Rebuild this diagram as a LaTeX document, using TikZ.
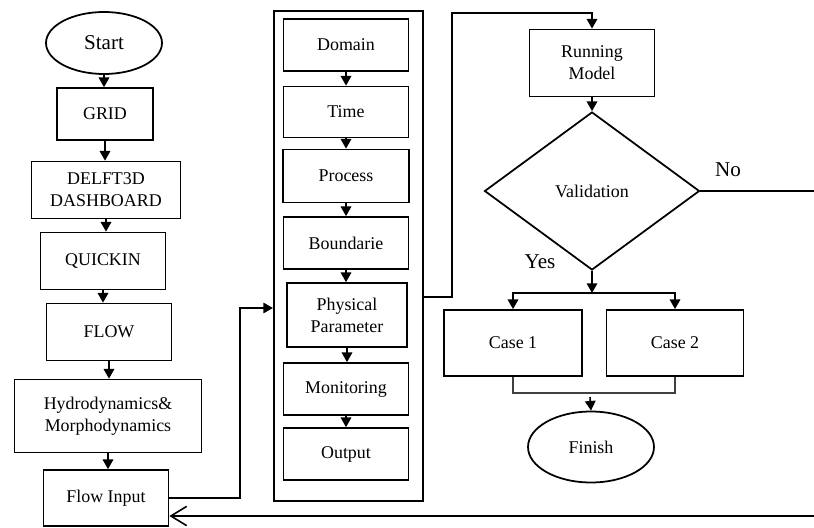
\documentclass[tikz,border=0pt]{standalone}
\usepackage{fontspec}
\setmainfont{Liberation Serif}
\newfontfamily\timesfont{Liberation Serif}
\usetikzlibrary{shapes.geometric,arrows.meta}

\begin{document}
\begin{tikzpicture}[x=0.02cm,y=-0.02cm]
\tikzstyle{every node}+=[inner sep=0pt, font=\timesfont\fontsize{10.2}{12.5}\selectfont]
\tikzstyle{box}=[draw, line width=1pt, rectangle, align=center]
\tikzstyle{oval}=[draw, line width=1pt, ellipse, align=center]
\tikzstyle{arr}=[line width=0.9pt, -{Triangle[length=5.5pt,width=6pt]}]
\tikzstyle{big}=[font=\timesfont\fontsize{12}{14}\selectfont]
\useasboundingbox (0,0) rectangle (814,527);
% left column
\node [oval, big, minimum width=2.32cm, minimum height=1.24cm] (start) at (104,43) {Start};
\node [box, minimum width=1.92cm, minimum height=1.04cm] (grid) at (105,114) {GRID};
\node [box, minimum width=2.98cm, minimum height=1.14cm] (dash) at (106,190) {DELFT3D\\DASHBOARD};
\node [box, minimum width=2.5cm, minimum height=1.14cm] (quick) at (103,261) {QUICKIN};
\node [box, minimum width=2.5cm, minimum height=1.14cm] (flow) at (109,332) {FLOW};
\node [box, minimum width=3.74cm, minimum height=1.46cm] (hydro) at (108,416) {Hydrodynamics\&\\Morphodynamics};
\node [box, minimum width=2.5cm, minimum height=1.12cm] (flowin) at (106,498) {Flow Input};
\draw [arr] (start.south) -- (start.south |- grid.north);
\draw [arr] (grid.south) -- (grid.south |- dash.north);
\draw [arr] (dash.south) -- (dash.south |- quick.north);
\draw [arr] (quick.south) -- (quick.south |- flow.north);
\draw [arr] (flow.south) -- (flow.south |- hydro.north);
\draw [arr] (hydro.south) -- (hydro.south |- flowin.north);
% input panel
\node [draw, line width=1.2pt, minimum width=2.98cm, minimum height=9.8cm] (panel) at (348.5,256) {};
\node [box, minimum width=2.5cm, minimum height=1.04cm] (domain) at (346,45) {Domain};
\node [box, minimum width=2.5cm, minimum height=1.02cm] (time) at (346,112) {Time};
\node [box, minimum width=2.52cm, minimum height=1.06cm] (process) at (346,176) {Process};
\node [box, minimum width=2.5cm, minimum height=1.04cm] (bound) at (346,243) {Boundarie};
\node [box, minimum width=2.4cm, minimum height=1.28cm] (phys) at (347,315) {Physical\\Parameter};
\node [box, minimum width=2.5cm, minimum height=1.04cm] (monit) at (346,389) {Monitoring};
\node [box, minimum width=2.5cm, minimum height=1.04cm] (output) at (346,454) {Output};
\draw [arr] (domain.south) -- (domain.south |- time.north);
\draw [arr] (time.south) -- (time.south |- process.north);
\draw [arr] (process.south) -- (process.south |- bound.north);
\draw [arr] (bound.south) -- (bound.south |- phys.north);
\draw [arr] (phys.south) -- (phys.south |- monit.north);
\draw [arr] (monit.south) -- (monit.south |- output.north);
\coordinate (in) at (240,308);
\draw [arr] (flowin.east) -| (in) -- (in -| panel.west);
% model run
\node [box, minimum width=2.5cm, minimum height=1.34cm] (run) at (592,63) {Running\\Model};
\node [draw, line width=1pt, diamond, minimum width=4.3cm, minimum height=3.16cm] (valid) at (592,191) {Validation};
\coordinate (out) at (452,297);
\draw [arr] (out -| panel.east) -- (out) -- (452,13) -| (run.north);
\draw [arr] (run.south) -- (valid.north);
\node [big] (no) at (728,170) {No};
\node [big] (yes) at (540,262) {Yes};
\coordinate (noend) at (814,191);
\draw [line width=0.9pt] (valid.east) -- (noend);
% cases
\node [box, minimum width=2.76cm, minimum height=1.32cm] (case1) at (513,343) {Case 1};
\node [box, minimum width=2.74cm, minimum height=1.32cm] (case2) at (675,343) {Case 2};
\coordinate (split) at (592,293);
\draw [arr] (valid.south) -- (split);
\draw [arr] (split) -| (case1.north);
\draw [arr] (split) -| (case2.north);
\coordinate (join) at (590,393);
\draw [line width=0.6pt, black!75] (case1.south) |- (join) -| (case2.south);
\node [oval, minimum width=2.52cm, minimum height=1.42cm] (finish) at (591,447) {Finish};
\draw [arr] (join) ++(0,4) -- (finish.north);
% feedback
\coordinate (back) at (814,516);
\draw [line width=0.9pt, -{Straight Barb[length=9pt,width=11pt]}] (back) -- (back -| flowin.east);
\end{tikzpicture}
\end{document}
